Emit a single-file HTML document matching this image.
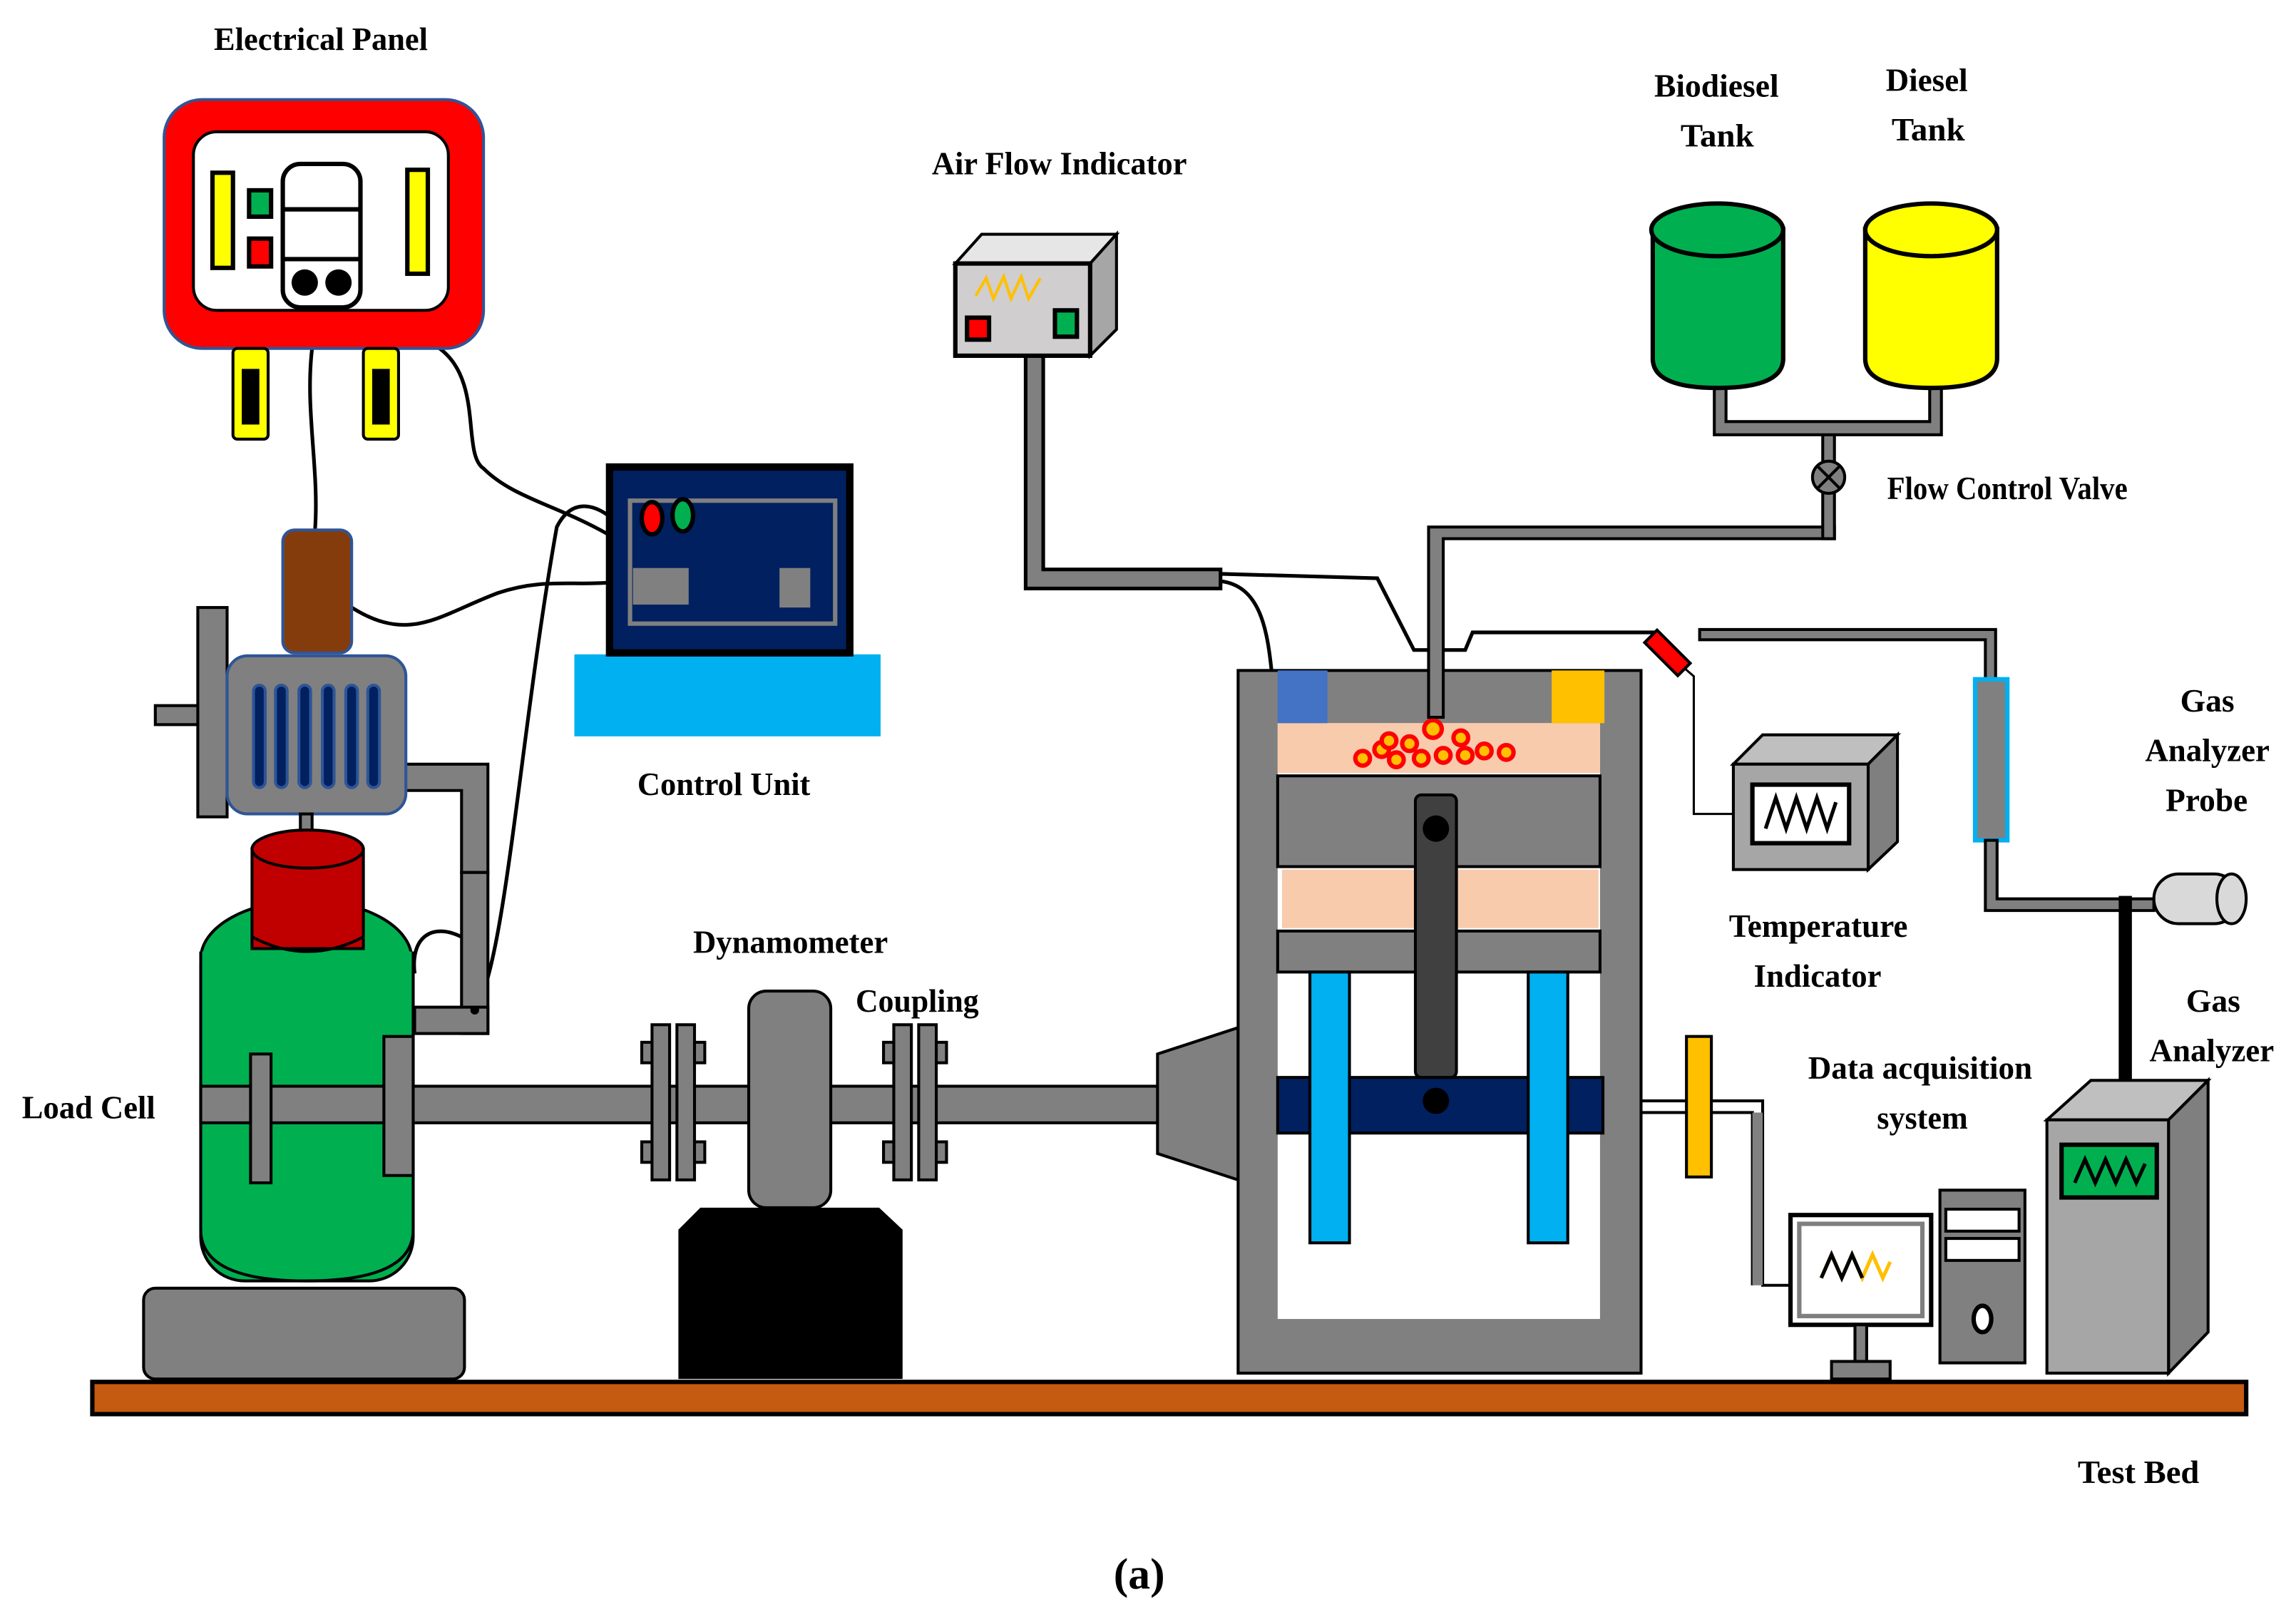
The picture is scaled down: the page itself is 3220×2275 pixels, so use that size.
<!DOCTYPE html>
<html><head><meta charset="utf-8">
<style>
html,body{margin:0;padding:0;background:#fff;}
svg{display:block;}
text{font-family:"Liberation Serif",serif;font-weight:bold;fill:#000;}
</style></head>
<body>
<svg width="3220" height="2275" viewBox="0 0 1567 1108" preserveAspectRatio="none" xmlns="http://www.w3.org/2000/svg">
<rect width="1567" height="1108" fill="#fff"/>
<text x="146" y="34" font-size="22" textLength="146" lengthAdjust="spacingAndGlyphs">Electrical Panel</text>
<text x="636" y="119" font-size="22" textLength="174" lengthAdjust="spacingAndGlyphs">Air Flow Indicator</text>
<text x="1129" y="66" font-size="22" textLength="85" lengthAdjust="spacingAndGlyphs">Biodiesel</text>
<text x="1147" y="100" font-size="22" textLength="50" lengthAdjust="spacingAndGlyphs">Tank</text>
<text x="1287" y="62" font-size="22" textLength="56" lengthAdjust="spacingAndGlyphs">Diesel</text>
<text x="1291" y="96" font-size="22" textLength="50" lengthAdjust="spacingAndGlyphs">Tank</text>
<text x="1288" y="341" font-size="22" textLength="164" lengthAdjust="spacingAndGlyphs">Flow Control Valve</text>
<text x="435" y="543" font-size="22" textLength="118" lengthAdjust="spacingAndGlyphs">Control Unit</text>
<text x="1488" y="486" font-size="22" textLength="37" lengthAdjust="spacingAndGlyphs">Gas</text>
<text x="1464" y="520" font-size="22" textLength="85" lengthAdjust="spacingAndGlyphs">Analyzer</text>
<text x="1478" y="554" font-size="22" textLength="56" lengthAdjust="spacingAndGlyphs">Probe</text>
<text x="1180" y="640" font-size="22" textLength="122" lengthAdjust="spacingAndGlyphs">Temperature</text>
<text x="1197" y="674" font-size="22" textLength="87" lengthAdjust="spacingAndGlyphs">Indicator</text>
<text x="473" y="651" font-size="22" textLength="133" lengthAdjust="spacingAndGlyphs">Dynamometer</text>
<text x="584" y="691" font-size="22" textLength="84" lengthAdjust="spacingAndGlyphs">Coupling</text>
<text x="1492" y="691" font-size="22" textLength="37" lengthAdjust="spacingAndGlyphs">Gas</text>
<text x="1467" y="725" font-size="22" textLength="85" lengthAdjust="spacingAndGlyphs">Analyzer</text>
<text x="1234" y="737" font-size="22" textLength="153" lengthAdjust="spacingAndGlyphs">Data acquisition</text>
<text x="1281" y="771" font-size="22" textLength="62" lengthAdjust="spacingAndGlyphs">system</text>
<text x="15" y="764" font-size="22" textLength="91" lengthAdjust="spacingAndGlyphs">Load Cell</text>
<text x="926" y="870" font-size="22" textLength="121" lengthAdjust="spacingAndGlyphs">Diesel Engine</text>
<text x="1418" y="1013" font-size="22" textLength="83" lengthAdjust="spacingAndGlyphs">Test Bed</text>
<text x="760" y="1085" font-size="30" font-weight="normal">(<tspan font-weight="bold">a</tspan>)</text>

<g fill="none" stroke="#000" stroke-width="2.5">
<path d="M213 238 C208 280 218 320 215 362"/>
<path d="M300 238 C330 260 315 310 330 320 C350 340 380 345 415 365"/>
<path d="M240 415 C280 440 300 420 340 405 C370 395 390 400 415 398"/>
<path d="M324 690 C345 660 355 500 380 360 C390 340 405 345 415 352"/>
<path d="M283 665 C280 640 295 630 315 640"/>
<path d="M833 397 C860 400 865 430 868 460"/>
<path d="M833 392 L940 395 L965 444 L1000 444 L1005 432 L1130 432"/>
<path d="M1148 455 L1156 462 L1156 556 L1183 556" stroke-width="1.5"/>
</g>

<rect x="112" y="68" width="218" height="170" rx="26" fill="#ff0000" stroke="#2f5597" stroke-width="2"/>
<rect x="132" y="90" width="174" height="122" rx="16" fill="#fff" stroke="#000" stroke-width="2"/>
<rect x="145" y="118" width="14" height="65" fill="#ffff00" stroke="#000" stroke-width="3"/>
<rect x="278" y="116" width="14" height="71" fill="#ffff00" stroke="#000" stroke-width="3"/>
<rect x="170" y="130" width="15" height="18" fill="#00b050" stroke="#000" stroke-width="3"/>
<rect x="170" y="163" width="15" height="19" fill="#ff0000" stroke="#000" stroke-width="3"/>
<rect x="193" y="112" width="53" height="98" rx="12" fill="#fff" stroke="#000" stroke-width="3"/>
<line x1="193" y1="143" x2="246" y2="143" stroke="#000" stroke-width="3"/>
<line x1="193" y1="177" x2="246" y2="177" stroke="#000" stroke-width="3"/>
<circle cx="208" cy="193" r="9" fill="#000"/><circle cx="231" cy="193" r="9" fill="#000"/>
<rect x="159" y="238" width="24" height="62" rx="3" fill="#ffff00" stroke="#000" stroke-width="2"/>
<rect x="165" y="252" width="12" height="38" fill="#000"/>
<rect x="248" y="238" width="24" height="62" rx="3" fill="#ffff00" stroke="#000" stroke-width="2"/>
<rect x="254" y="252" width="12" height="38" fill="#000"/>

<rect x="392" y="447" width="209" height="56" fill="#00b0f0"/>
<rect x="416" y="319" width="164" height="127" fill="#002060" stroke="#000" stroke-width="5"/>
<rect x="430" y="342" width="140" height="84" fill="none" stroke="#7f7f7f" stroke-width="3"/>
<ellipse cx="445" cy="354" rx="7" ry="11" fill="#ff0000" stroke="#000" stroke-width="3"/>
<ellipse cx="466" cy="352" rx="7" ry="11" fill="#00b050" stroke="#000" stroke-width="3"/>
<rect x="432" y="388" width="38" height="25" fill="#808080"/>
<rect x="532" y="388" width="21" height="27" fill="#808080"/>

<rect x="193" y="362" width="47" height="84" rx="8" fill="#843c0c" stroke="#2f5597" stroke-width="2"/>
<rect x="106" y="482" width="30" height="13" fill="#808080" stroke="#000" stroke-width="2"/>
<rect x="135" y="415" width="20" height="143" fill="#808080" stroke="#000" stroke-width="2"/>
<path d="M276 522 L333 522 L333 596 L315 596 L315 540 L276 540 Z" fill="#808080" stroke="#000" stroke-width="2"/>
<rect x="315" y="596" width="18" height="110" fill="#808080" stroke="#000" stroke-width="2"/>
<rect x="283" y="688" width="50" height="18" fill="#808080" stroke="#000" stroke-width="2"/>
<circle cx="324" cy="690" r="3" fill="#000"/>
<rect x="155" y="448" width="122" height="108" rx="14" fill="#808080" stroke="#2f5597" stroke-width="2"/>
<g fill="#002060" stroke="#2f5597" stroke-width="2">
<rect x="173" y="468" width="8" height="70" rx="4"/><rect x="188" y="468" width="8" height="70" rx="4"/>
<rect x="204" y="468" width="8" height="70" rx="4"/><rect x="220" y="468" width="8" height="70" rx="4"/>
<rect x="236" y="468" width="8" height="70" rx="4"/><rect x="251" y="468" width="8" height="70" rx="4"/>
</g>
<rect x="205" y="556" width="8" height="20" fill="#808080" stroke="#000" stroke-width="2"/>
<rect x="137" y="630" width="145" height="245" rx="30" fill="#00b050" stroke="#000" stroke-width="2"/>
<ellipse cx="209" cy="655" rx="72" ry="40" fill="#00b050" stroke="#000" stroke-width="2"/>
<rect x="137" y="650" width="145" height="190" fill="#00b050"/>
<path d="M137 650 L137 840 Q137 875 209 875 Q282 875 282 840 L282 650" fill="none" stroke="#000" stroke-width="2"/>
<rect x="172" y="580" width="76" height="68" fill="#c00000" stroke="#000" stroke-width="2"/>
<ellipse cx="210" cy="580" rx="38" ry="13" fill="#c00000" stroke="#000" stroke-width="2"/>
<path d="M172 640 Q210 660 248 640" fill="none" stroke="#000" stroke-width="2"/>
<rect x="98" y="880" width="219" height="62" rx="8" fill="#808080" stroke="#000" stroke-width="2"/>

<rect x="137" y="742" width="655" height="25" fill="#808080" stroke="#000" stroke-width="2"/>
<rect x="171" y="720" width="14" height="88" fill="#808080" stroke="#000" stroke-width="2"/>
<rect x="262" y="708" width="20" height="95" fill="#808080" stroke="#000" stroke-width="2"/>
<g fill="#808080" stroke="#000" stroke-width="2">
<rect x="445" y="700" width="12" height="106"/><rect x="462" y="700" width="12" height="106"/>
<rect x="438" y="712" width="7" height="14"/><rect x="474" y="712" width="7" height="14"/>
<rect x="438" y="780" width="7" height="14"/><rect x="474" y="780" width="7" height="14"/>
<rect x="610" y="700" width="12" height="106"/><rect x="627" y="700" width="12" height="106"/>
<rect x="603" y="712" width="7" height="14"/><rect x="639" y="712" width="7" height="14"/>
<rect x="603" y="780" width="7" height="14"/><rect x="639" y="780" width="7" height="14"/>
</g>
<path d="M463 840 L478 825 L600 825 L616 840 L616 942 L463 942 Z" fill="#000"/>
<rect x="511" y="677" width="56" height="148" rx="12" fill="#808080" stroke="#000" stroke-width="2"/>
<path d="M790 720 L845 702 L845 806 L790 788 Z" fill="#808080" stroke="#000" stroke-width="2"/>

<rect x="63" y="944" width="1470" height="22" fill="#c55a11" stroke="#000" stroke-width="3"/>

<rect x="845" y="458" width="275" height="480" fill="#808080" stroke="#000" stroke-width="2"/>
<rect x="872" y="494" width="220" height="407" fill="#fff"/>
<rect x="872" y="494" width="220" height="34" fill="#f8cbad"/>
<rect x="872" y="530" width="220" height="62" fill="#808080" stroke="#000" stroke-width="2"/>
<rect x="875" y="594" width="216" height="40" fill="#f8cbad"/>
<rect x="872" y="636" width="220" height="28" fill="#808080" stroke="#000" stroke-width="2"/>
<rect x="872" y="736" width="222" height="38" fill="#002060" stroke="#000" stroke-width="2"/>
<rect x="894" y="664" width="27" height="185" fill="#00b0f0" stroke="#000" stroke-width="2"/>
<rect x="1043" y="664" width="27" height="185" fill="#00b0f0" stroke="#000" stroke-width="2"/>
<rect x="966" y="543" width="28" height="193" rx="4" fill="#404040" stroke="#000" stroke-width="2"/>
<circle cx="980" cy="566" r="9" fill="#000"/><circle cx="980" cy="752" r="9" fill="#000"/>
<rect x="872" y="458" width="34" height="36" fill="#4472c4"/>
<rect x="1059" y="458" width="36" height="36" fill="#ffc000"/>
<g fill="#ffc000" stroke="#ff0000" stroke-width="3">
<circle cx="930" cy="518" r="5"/><circle cx="943" cy="512" r="5"/><circle cx="953" cy="519" r="5"/><circle cx="962" cy="508" r="5"/>
<circle cx="970" cy="518" r="5"/><circle cx="978" cy="498" r="6"/><circle cx="985" cy="516" r="5"/><circle cx="997" cy="504" r="5"/>
<circle cx="1000" cy="516" r="5"/><circle cx="1013" cy="513" r="5"/><circle cx="1028" cy="514" r="5"/><circle cx="948" cy="506" r="5"/>
</g>
<path d="M975 360 L975 490 L985 490 L985 368 L1252 368 L1252 360 Z" fill="#808080" stroke="#000" stroke-width="2"/>
<rect x="1244" y="292" width="8" height="76" fill="#808080" stroke="#000" stroke-width="2"/>
<path d="M1170 258 L1178 258 L1178 288 L1317 288 L1317 258 L1325 258 L1325 297 L1170 297 Z" fill="#808080" stroke="#000" stroke-width="2"/>
<circle cx="1248" cy="326" r="11" fill="#808080" stroke="#000" stroke-width="2"/>
<path d="M1240 318 L1256 334 M1256 318 L1240 334" stroke="#000" stroke-width="2"/>
<path d="M1128 155 L1128 245 Q1128 265 1172 265 Q1217 265 1217 245 L1217 155" fill="#00b050" stroke="#000" stroke-width="3"/>
<ellipse cx="1172" cy="157" rx="45" ry="18" fill="#00b050" stroke="#000" stroke-width="3"/>
<path d="M1273 155 L1273 245 Q1273 265 1318 265 Q1363 265 1363 245 L1363 155" fill="#ffff00" stroke="#000" stroke-width="3"/>
<ellipse cx="1318" cy="157" rx="45" ry="18" fill="#ffff00" stroke="#000" stroke-width="3"/>

<path d="M700 243 L712 243 L712 389 L833 389 L833 402 L700 402 Z" fill="#808080" stroke="#000" stroke-width="2.5"/>
<path d="M652 180 L670 160 L762 160 L744 180 Z" fill="#e7e6e6" stroke="#000" stroke-width="2"/>
<path d="M744 180 L762 160 L762 225 L744 243 Z" fill="#a6a6a6" stroke="#000" stroke-width="2"/>
<rect x="652" y="180" width="92" height="63" fill="#d0cece" stroke="#000" stroke-width="3"/>
<path d="M666 202 L673 190 L678 204 L685 189 L690 204 L697 189 L702 204 L710 190" fill="none" stroke="#ffc000" stroke-width="2"/>
<rect x="660" y="217" width="15" height="15" fill="#ff0000" stroke="#000" stroke-width="3"/>
<rect x="720" y="212" width="15" height="18" fill="#00b050" stroke="#000" stroke-width="3"/>

<rect x="1122" y="440" width="32" height="12" transform="rotate(45 1138 446)" fill="#ff0000" stroke="#000" stroke-width="2"/>
<path d="M1160 430 L1362 430 L1362 464 L1355 464 L1355 437 L1160 437 Z" fill="#808080" stroke="#000" stroke-width="2"/>
<path d="M1183 522 L1203 502 L1295 502 L1275 522 Z" fill="#bfbfbf" stroke="#000" stroke-width="2"/>
<path d="M1275 522 L1295 502 L1295 575 L1275 594 Z" fill="#7f7f7f" stroke="#000" stroke-width="2"/>
<rect x="1183" y="522" width="92" height="72" fill="#a6a6a6" stroke="#000" stroke-width="2"/>
<rect x="1196" y="536" width="66" height="40" fill="#fff" stroke="#000" stroke-width="3"/>
<path d="M1205 566 L1212 545 L1219 566 L1226 545 L1233 566 L1240 545 L1247 566 L1253 548" fill="none" stroke="#000" stroke-width="2.5"/>

<rect x="1348" y="464" width="22" height="110" fill="#808080" stroke="#00b0f0" stroke-width="3"/>
<path d="M1355 574 L1363 574 L1363 614 L1470 614 L1470 622 L1355 622 Z" fill="#808080" stroke="#000" stroke-width="2"/>
<rect x="1470" y="597" width="58" height="34" rx="17" fill="#d9d9d9" stroke="#000" stroke-width="2"/>
<ellipse cx="1523" cy="614" rx="10" ry="17" fill="#d9d9d9" stroke="#000" stroke-width="2"/>
<rect x="1446" y="612" width="9" height="130" fill="#000"/>
<path d="M1397 765 L1427 738 L1507 738 L1480 765 Z" fill="#bfbfbf" stroke="#000" stroke-width="2"/>
<path d="M1480 765 L1507 738 L1507 910 L1480 938 Z" fill="#7f7f7f" stroke="#000" stroke-width="2"/>
<rect x="1397" y="765" width="83" height="173" fill="#a6a6a6" stroke="#000" stroke-width="2"/>
<rect x="1407" y="782" width="65" height="36" fill="#00b050" stroke="#000" stroke-width="3"/>
<path d="M1416 808 L1423 792 L1430 808 L1437 792 L1444 808 L1451 792 L1458 808 L1464 795" fill="none" stroke="#000" stroke-width="2.5"/>

<rect x="1151" y="708" width="17" height="96" fill="#ffc000" stroke="#000" stroke-width="2"/>
<path d="M1120 752 L1151 752 M1168 752 L1203 752 L1203 878 L1222 878 M1120 760 L1151 760 M1168 760 L1196 760 L1196 878" fill="none" stroke="#000" stroke-width="2"/>
<rect x="1196" y="760" width="7" height="118" fill="#808080"/>
<rect x="1222" y="830" width="96" height="75" fill="#fff" stroke="#000" stroke-width="3"/>
<rect x="1228" y="836" width="84" height="63" fill="#fff" stroke="#7f7f7f" stroke-width="3"/>
<path d="M1243 873 L1250 857 L1257 873 L1264 857 L1271 873 L1278 857 L1285 873 L1290 862" fill="none" stroke="#ffc000" stroke-width="2.5"/>
<path d="M1243 873 L1250 857 L1257 873 L1264 857 L1271 873" fill="none" stroke="#000" stroke-width="2.5"/>
<rect x="1266" y="905" width="8" height="25" fill="#808080" stroke="#000" stroke-width="2"/>
<rect x="1250" y="930" width="40" height="12" fill="#808080" stroke="#000" stroke-width="2"/>
<rect x="1324" y="813" width="58" height="118" fill="#808080" stroke="#000" stroke-width="2"/>
<rect x="1328" y="826" width="50" height="15" fill="#fff" stroke="#000" stroke-width="2"/>
<rect x="1328" y="846" width="50" height="15" fill="#fff" stroke="#000" stroke-width="2"/>
<ellipse cx="1353" cy="901" rx="6" ry="9" fill="#fff" stroke="#000" stroke-width="3"/>
</svg>
</body></html>
